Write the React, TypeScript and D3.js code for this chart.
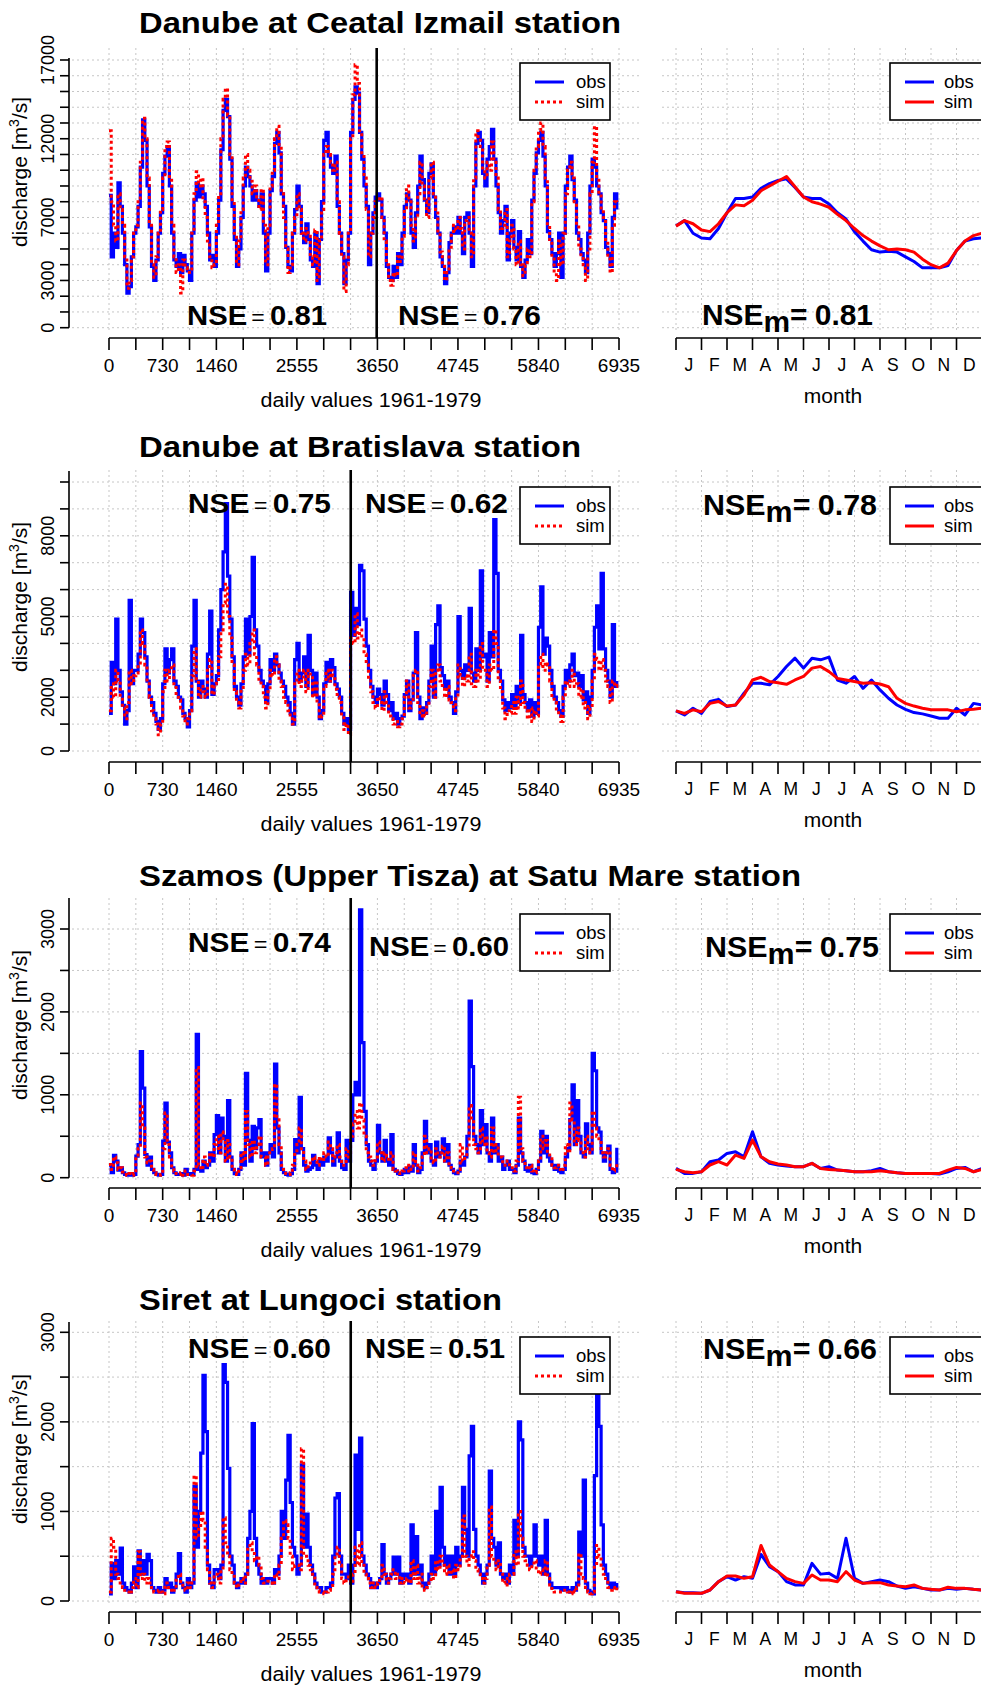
import React from "react";
import * as d3 from "d3";

const FONT = "'Liberation Sans', Arial, Helvetica, sans-serif";
const BLUE = "#0000ff";
const RED = "#ff0000";
const GRID = "#c6c6c6";

// ---- time axis ----
const SERIES_DAYS = 6935;
const DAYS_PER_MONTH = 365 / 12; // daily series summarised month by month
const CLIM_STEP = 365 / 36; // mean annual cycle, roughly every 10 days
const yearTicks = d3.range(0, SERIES_DAYS + 1, 365);
const dayLabels = [0, 730, 1460, 2555, 3650, 4745, 5840, 6935];
const monthNames = ["J", "F", "M", "A", "M", "J", "J", "A", "S", "O", "N", "D"];
const monthBounds = d3.range(0, 13).map((m) => (m * 365) / 12);

// ---- Danube at Ceatal Izmail (m3/s) ----
const izmailObs = [
  8400, 4500, 6000, 5100, 9200, 7700, 6000, 4000, 2200, 2600, 4500, 6000,
  6400, 7700, 10200, 13200, 11900, 9000, 6400, 3900, 3000, 4300, 6000, 7300,
  9800, 10900, 11500, 9000, 6000, 4300, 3900, 4700, 3500, 4600, 4000, 3600,
  3000, 6000, 8100, 9200, 8300, 9000, 8500, 7700, 6000, 4300, 4600, 3900,
  6000, 8100, 11300, 13800, 14500, 13400, 10700, 7700, 5600, 3900, 5000, 7000,
  9000, 10200, 9600, 9000, 8100, 8700, 8100, 7700, 8500, 6000, 3600, 6000,
  8700, 9600, 11700, 12400, 11100, 8500, 7700, 5100, 3900, 3600, 6000, 7500,
  9000, 7700, 6000, 5400, 6600, 5600, 4300, 3900, 6000, 2800, 5600, 8000,
  11900, 12400, 10900, 10200, 9800, 10900, 7700, 6000, 4700, 2800, 4300, 6000,
  12400, 14500, 15300, 14900, 12400, 10700, 9000, 7700, 4000, 6000, 7300, 8300,
  8500, 8100, 7000, 6000, 3900, 3200, 3000, 3900, 3200, 4700, 4000, 6000,
  7700, 8500, 8100, 6000, 5100, 7300, 9000, 10900, 9400, 8100, 7300, 9800,
  10400, 8300, 7000, 6000, 4500, 3900, 2800, 3500, 5400, 6000, 6400, 6000,
  7000, 6000, 4700, 7000, 7300, 6000, 3900, 9000, 11700, 12400, 11900, 9800,
  9000, 10700, 11500, 12600, 10700, 9000, 7300, 6000, 6800, 7700, 4300, 6000,
  6800, 5100, 4300, 6100, 3900, 3200, 4300, 5600, 4700, 8100, 9800, 11100,
  11900, 12400, 10900, 9000, 6100, 5600, 4700, 3900, 4700, 6000, 3200, 6000,
  9000, 10200, 10900, 9400, 8100, 6000, 5600, 4700, 4300, 3500, 6000, 9000,
  10700, 10200, 9000, 8500, 7300, 6800, 5100, 4700, 3900, 7000, 8500, 7500,
];
const izmailSim = [
  12500, 8000, 6500, 5500, 8500, 7500, 6500, 4500, 2500, 3000, 4500, 6000,
  6500, 8000, 10500, 13300, 12000, 9500, 6500, 4000, 3200, 4500, 6000, 7500,
  9500, 11500, 11800, 9500, 6500, 4500, 3500, 4000, 2200, 4300, 3800, 3500,
  3500, 6000, 8500, 9900, 9000, 9500, 8000, 7000, 5500, 4500, 3800, 4000,
  6500, 8500, 12000, 14500, 15200, 13500, 11000, 8000, 6000, 4000, 5500, 7500,
  9500, 11000, 10000, 9300, 8500, 9000, 8300, 7500, 8800, 6500, 4000, 6500,
  9000, 10000, 12000, 12800, 11500, 8500, 7000, 5000, 3500, 4000, 6000, 7000,
  8500, 7500, 6000, 5500, 6300, 5800, 4500, 4000, 6200, 3000, 5500, 7500,
  11000, 11500, 11000, 10500, 10000, 10500, 8000, 6000, 4500, 2300, 4000, 6000,
  12000, 14800, 16700, 15500, 12500, 11000, 9500, 7500, 4500, 6000, 7000, 8000,
  8000, 8300, 7000, 5500, 4000, 3000, 2700, 3500, 3300, 4500, 4200, 5800,
  7500, 9000, 8000, 6500, 5500, 7000, 8500, 10500, 9000, 8000, 7000, 9500,
  10500, 8500, 7500, 6000, 4800, 4000, 3000, 3500, 5000, 6000, 6500, 6200,
  7000, 6300, 5000, 6800, 7000, 6000, 4500, 9500, 12500, 12000, 11500, 10000,
  9500, 10500, 10000, 11800, 10500, 9500, 7500, 6300, 6500, 7500, 4500, 5500,
  6500, 5000, 4000, 5500, 4000, 3300, 4000, 5000, 4500, 8000, 10000, 11500,
  12500, 13000, 11500, 9500, 6500, 5500, 4500, 3500, 3000, 5500, 4000, 6000,
  8500, 10000, 10500, 9500, 8000, 6500, 5000, 4500, 4000, 3000, 5000, 8500,
  10500, 12800, 9500, 8500, 7500, 7000, 5500, 4500, 3500, 6500, 8000, 7800,
];
const izmailClimObs = [
  6470, 6800, 6000, 5700, 5650, 6300, 7300, 8200, 8200, 8300, 8850, 9150, 9350,
  9450, 8900, 8300, 8200, 8200, 7850, 7300, 6900, 6100, 5500, 4950, 4800, 4850,
  4800, 4500, 4200, 3800, 3800, 3800, 3950, 4900, 5500, 5650, 5700,
];
const izmailClimSim = [
  6450, 6800, 6600, 6200, 6100, 6600, 7300, 7800, 7750, 8100, 8700, 9000, 9300,
  9600, 8950, 8300, 8000, 7850, 7650, 7200, 6800, 6300, 5850, 5500, 5200, 4950,
  5000, 4950, 4800, 4350, 4000, 3800, 4100, 4900, 5500, 5850, 6000,
];

// ---- Danube at Bratislava (m3/s) ----
const bratObs = [
  1400, 3300, 2500, 4900, 3000, 2200, 1700, 1000, 1500, 5600, 2500, 3000,
  3000, 3600, 4900, 4400, 3500, 2600, 2000, 1800, 1400, 1100, 800, 1200,
  2500, 3800, 2900, 3400, 3800, 2600, 2400, 2000, 1900, 1400, 1200, 900,
  1500, 3900, 5600, 2600, 2000, 2600, 2300, 2000, 3600, 5200, 2100, 2500,
  2800, 4500, 6000, 7400, 9200, 6500, 4900, 3500, 2400, 2000, 1700, 2500,
  3500, 4900, 3600, 5000, 7200, 4500, 3900, 3000, 2600, 2400, 1800, 2500,
  3400, 3000, 3600, 3200, 2900, 2600, 2400, 2000, 1800, 1400, 1000, 3400,
  4000, 2600, 2900, 3500, 2400, 4300, 3000, 2100, 2900, 2000, 1200, 1500,
  2500, 3300, 2600, 3400, 3100, 2500, 2300, 2000, 1400, 1000, 1200, 800,
  5900, 4300, 5300, 4700, 6900, 6700, 4900, 3900, 3000, 2400, 2000, 1800,
  2300, 2100, 1700, 2600, 2100, 1500, 1800, 1200, 1400, 1000, 1200, 1300,
  2100, 2600, 1500, 1900, 2900, 4400, 2000, 1200, 1600, 1400, 1800, 2600,
  3900, 2000, 4700, 5400, 3100, 2800, 2400, 2600, 2000, 1800, 1400, 2200,
  5000, 3000, 2700, 3200, 3000, 5300, 2900, 2600, 3800, 3000, 6700, 3500,
  3600, 2600, 4400, 3500, 8600, 6600, 3000, 2600, 1900, 1500, 1800, 1600,
  2100, 1600, 2400, 1800, 4300, 2100, 1800, 1500, 1900, 1300, 1800, 1400,
  4600, 6100, 3600, 4200, 3900, 3000, 2400, 2000, 1800, 1500, 1300, 2400,
  3000, 2600, 3200, 3600, 2800, 2900, 2400, 2800, 1900, 2200, 1400, 2000,
  3000, 4600, 5400, 3800, 6600, 3800, 3000, 2600, 2000, 4700, 2400, 2600,
];
const bratSim = [
  1500, 2500, 2000, 3000, 2600, 2000, 1600, 1200, 1800, 3000, 2500, 2800,
  2900, 3200, 4500, 4000, 3200, 2500, 2000, 1500, 1200, 1000, 600, 1000,
  2200, 3000, 2600, 3000, 3200, 2500, 2000, 1900, 1600, 1300, 1000, 1200,
  1500, 2800, 3800, 2600, 2000, 2400, 2200, 2000, 3000, 3400, 2100, 2500,
  2600, 3500, 4500, 5500, 6200, 5000, 4200, 3200, 2200, 1800, 1600, 2300,
  3000, 3600, 3200, 4000, 4500, 3600, 3200, 2600, 2400, 2000, 1600, 2200,
  3000, 2800, 3500, 3200, 2600, 2400, 2000, 1800, 1500, 1200, 1000, 2500,
  3000, 2400, 2600, 3000, 2200, 3000, 2800, 2000, 2600, 1800, 1200, 1300,
  2400, 3000, 2600, 3000, 2800, 2300, 2000, 1800, 1300, 800, 1000, 600,
  4200, 4000, 5100, 4200, 4500, 4200, 3600, 3200, 2600, 2200, 1800, 1600,
  2000, 1800, 1500, 2200, 1800, 1300, 1200, 1000, 1100, 900, 1000, 1200,
  2000, 2600, 1600, 1800, 2800, 3000, 1800, 1300, 1500, 1300, 1700, 2400,
  3000, 2000, 3000, 3200, 2600, 2300, 2000, 2400, 1900, 1800, 1500, 2000,
  3200, 2800, 2400, 2800, 2600, 3600, 2500, 2400, 3000, 2600, 4000, 3000,
  3000, 2400, 3200, 3000, 4500, 4000, 2600, 2200, 1600, 1200, 1500, 1400,
  1800, 1400, 2000, 1600, 2600, 1800, 1500, 1200, 1600, 1100, 1500, 1300,
  3200, 3600, 3000, 3300, 3200, 2600, 2000, 1800, 1500, 1300, 1100, 2000,
  2600, 2400, 2600, 3000, 2400, 2500, 2000, 2300, 1600, 1800, 1200, 1600,
  2600, 3600, 3400, 3000, 3400, 3000, 2600, 2400, 1800, 2600, 2400, 2500,
];
const bratClimObs = [
  1490, 1340, 1590, 1400, 1840, 1920, 1650, 1710, 2150, 2520, 2520, 2460, 2770,
  3140, 3450, 3080, 3450, 3390, 3490, 2640, 2520, 2770, 2330, 2640, 2270, 1960,
  1710, 1550, 1430, 1380, 1300, 1220, 1220, 1590, 1340, 1770, 1710,
];
const bratClimSim = [
  1490, 1400, 1530, 1460, 1770, 1840, 1670, 1710, 2080, 2640, 2740, 2580, 2540,
  2480, 2640, 2770, 3080, 3140, 2950, 2700, 2640, 2580, 2520, 2540, 2490, 2390,
  1960, 1770, 1670, 1590, 1530, 1530, 1530, 1460, 1530, 1550, 1590,
];

// ---- Szamos (Upper Tisza) at Satu Mare (m3/s) ----
const szamosObs = [
  150, 60, 270, 200, 90, 120, 60, 40, 30, 50, 30, 40,
  260, 400, 1520, 1080, 280, 150, 250, 100, 60, 40, 30, 40,
  440, 900, 430, 300, 120, 60, 40, 40, 50, 30, 100, 40,
  50, 40, 100, 1730, 100, 80, 200, 120, 150, 300, 200, 520,
  750, 300, 720, 500, 200, 930, 250, 100, 50, 40, 100, 300,
  150, 1260, 450, 200, 620, 350, 600, 700, 250, 300, 150, 300,
  400, 250, 1370, 600, 300, 100, 60, 40, 30, 50, 100, 460,
  300, 970, 350, 150, 80, 100, 120, 270, 150, 100, 200, 150,
  250, 200, 480, 300, 150, 250, 540, 200, 120, 100, 450, 200,
  450, 1000, 1150, 1000, 3230, 1630, 800, 400, 200, 150, 100, 200,
  630, 300, 200, 450, 200, 150, 520, 100, 80, 50, 40, 60,
  100, 60, 130, 80, 400, 150, 60, 100, 300, 680, 300, 400,
  200, 150, 430, 250, 300, 470, 200, 400, 150, 100, 60, 50,
  80, 200, 150, 250, 500, 2130, 1340, 500, 400, 300, 810, 400,
  640, 300, 200, 720, 300, 400, 200, 250, 100, 150, 200, 100,
  100, 60, 150, 720, 300, 200, 100, 80, 150, 60, 50, 100,
  200, 560, 300, 500, 250, 200, 150, 100, 150, 80, 60, 100,
  250, 350, 700, 1120, 400, 930, 500, 300, 250, 650, 400, 300,
  1500, 1290, 600, 550, 300, 200, 300, 380, 100, 60, 80, 360,
];
const szamosSim = [
  160, 100, 250, 180, 100, 120, 70, 40, 30, 50, 30, 50,
  250, 350, 900, 600, 250, 180, 200, 100, 60, 40, 30, 40,
  350, 780, 400, 250, 120, 80, 50, 40, 60, 30, 80, 40,
  40, 30, 80, 1330, 150, 100, 250, 150, 200, 300, 250, 400,
  500, 300, 550, 450, 200, 450, 250, 100, 60, 40, 120, 300,
  200, 800, 400, 250, 450, 300, 400, 500, 250, 250, 150, 300,
  300, 350, 1130, 700, 400, 150, 80, 50, 40, 60, 150, 300,
  400, 600, 350, 200, 100, 150, 200, 250, 200, 150, 250, 200,
  300, 250, 430, 350, 200, 300, 400, 250, 150, 150, 350, 250,
  500, 650, 800, 600, 900, 700, 500, 300, 250, 200, 150, 250,
  430, 300, 200, 300, 250, 200, 300, 100, 80, 60, 50, 80,
  120, 80, 150, 100, 300, 150, 80, 120, 250, 500, 300, 350,
  200, 180, 350, 250, 300, 380, 200, 300, 150, 120, 80, 60,
  100, 400, 200, 250, 350, 870, 700, 400, 350, 300, 600, 400,
  500, 300, 250, 600, 300, 400, 250, 250, 150, 150, 200, 120,
  120, 80, 200, 970, 350, 200, 120, 100, 150, 80, 60, 100,
  200, 500, 350, 450, 300, 250, 150, 120, 150, 100, 80, 150,
  400, 300, 900, 700, 400, 600, 450, 300, 250, 500, 350, 300,
  800, 600, 500, 450, 300, 250, 300, 350, 150, 80, 100, 170,
];
const szamosClimObs = [
  112, 52, 52, 72, 193, 213, 293, 313, 253, 554, 253, 173, 153, 141, 133, 133,
  173, 112, 133, 92, 84, 72, 72, 84, 112, 72, 60, 52, 52, 52, 52, 44, 72, 112,
  124, 72, 112,
];
const szamosClimSim = [
  100, 72, 60, 72, 153, 193, 153, 273, 233, 454, 253, 193, 165, 153, 133, 133,
  173, 112, 100, 92, 84, 72, 72, 72, 84, 72, 60, 52, 52, 52, 52, 52, 92, 124,
  112, 72, 100,
];

// ---- Siret at Lungoci (m3/s) ----
const siretObs = [
  80, 420, 250, 450, 300, 590, 200, 150, 120, 100, 200, 380,
  150, 560, 300, 450, 300, 520, 450, 150, 120, 100, 150, 100,
  120, 250, 150, 200, 100, 150, 300, 530, 200, 150, 100, 250,
  150, 200, 1280, 600, 1000, 1650, 2520, 1890, 400, 200, 150, 350,
  350, 250, 400, 2640, 2440, 1480, 500, 400, 200, 150, 200, 250,
  200, 300, 700, 1000, 1980, 700, 400, 300, 200, 250, 200, 250,
  250, 200, 350, 300, 500, 1000, 700, 1350, 1850, 1100, 600, 500,
  300, 400, 1520, 600, 970, 600, 400, 300, 200, 150, 150, 100,
  100, 150, 150, 200, 500, 1150, 1200, 500, 300, 300, 250, 400,
  200, 400, 1630, 800, 1820, 500, 400, 300, 250, 150, 200, 150,
  200, 250, 630, 300, 200, 250, 300, 490, 300, 490, 200, 300,
  250, 300, 200, 850, 300, 720, 300, 400, 200, 150, 200, 300,
  500, 300, 1000, 400, 1270, 600, 400, 500, 300, 500, 300, 600,
  400, 500, 1270, 800, 500, 1620, 1950, 800, 500, 400, 300, 200,
  300, 400, 1450, 700, 600, 400, 650, 300, 250, 300, 200, 400,
  300, 900, 500, 2000, 1800, 600, 500, 500, 400, 500, 850, 500,
  400, 500, 300, 900, 300, 200, 150, 150, 150, 150, 120, 150,
  150, 120, 100, 150, 120, 200, 770, 500, 1350, 200, 120, 100,
  80, 1400, 2320, 1950, 850, 400, 300, 200, 150, 200, 150, 200,
];
const siretSim = [
  100, 700, 600, 300, 250, 200, 150, 120, 100, 80, 150, 250,
  150, 550, 250, 300, 200, 250, 200, 150, 100, 100, 120, 100,
  80, 200, 150, 150, 100, 120, 250, 300, 200, 150, 120, 200,
  150, 200, 1400, 700, 800, 1000, 900, 600, 350, 200, 150, 300,
  300, 200, 350, 930, 650, 500, 350, 300, 200, 150, 180, 250,
  200, 300, 600, 650, 550, 450, 500, 400, 250, 200, 200, 220,
  200, 180, 300, 250, 400, 700, 900, 850, 700, 500, 350, 400,
  400, 350, 1700, 500, 500, 400, 350, 300, 150, 120, 100, 100,
  80, 100, 120, 150, 300, 500, 600, 400, 250, 200, 250, 300,
  200, 300, 600, 400, 650, 400, 300, 250, 200, 150, 200, 150,
  200, 250, 400, 300, 200, 250, 300, 350, 250, 300, 200, 250,
  200, 250, 200, 450, 250, 400, 200, 300, 150, 120, 150, 200,
  300, 250, 450, 350, 500, 400, 300, 400, 300, 350, 250, 400,
  350, 500, 950, 500, 400, 500, 550, 450, 350, 300, 250, 200,
  250, 400, 1050, 500, 450, 350, 450, 300, 200, 250, 180, 300,
  300, 550, 400, 1000, 700, 500, 450, 400, 350, 400, 450, 350,
  300, 350, 300, 450, 250, 180, 120, 100, 100, 100, 100, 120,
  120, 100, 80, 120, 100, 150, 530, 300, 250, 150, 100, 80,
  100, 400, 620, 500, 400, 300, 250, 150, 120, 150, 120, 150,
];
const siretClimObs = [
  104, 93, 93, 86, 123, 216, 272, 234, 272, 253, 520, 383, 328, 216, 179, 179,
  420, 300, 309, 253, 700, 253, 197, 216, 234, 216, 167, 141, 160, 141, 123, 123,
  141, 130, 141, 130, 123,
];
const siretClimSim = [
  104, 86, 86, 86, 123, 216, 279, 279, 253, 270, 620, 402, 328, 253, 216, 197,
  290, 234, 234, 216, 328, 234, 197, 205, 205, 179, 167, 160, 179, 141, 130, 123,
  153, 141, 141, 130, 123,
];

type NseText = { value: string; x: number; w: number; y: number };

type PanelSpec = {
  key: string;
  title: string;
  titleW: number;
  titleY: number;
  top: number;
  bottom: number;
  zeroY: number;
  yMax: number;
  yMaxPx: number;
  axisTop: number;
  tickStep: number;
  yLabels: number[];
  yTitleY: number;
  split: number;
  nse: NseText[];
  nsem: NseText;
  legendTop: number;
  obs: number[];
  sim: number[];
  climObs: number[];
  climSim: number[];
};

const panels: PanelSpec[] = [
  {
    key: "izmail",
    title: "Danube at Ceatal Izmail station",
    titleW: 482,
    titleY: 33,
    top: 48,
    bottom: 338,
    zeroY: 327.7,
    yMax: 17000,
    yMaxPx: 60,
    axisTop: 58,
    tickStep: 1000,
    yLabels: [0, 3000, 7000, 12000, 17000],
    yTitleY: 172,
    split: 3640,
    nse: [
      { value: "0.81", x: 187, w: 140, y: 325 },
      { value: "0.76", x: 398, w: 143, y: 325 },
    ],
    nsem: { value: "0.81", x: 702, w: 171, y: 325 },
    legendTop: 63,
    obs: izmailObs,
    sim: izmailSim,
    climObs: izmailClimObs,
    climSim: izmailClimSim,
  },
  {
    key: "brat",
    title: "Danube at Bratislava station",
    titleW: 442,
    titleY: 457,
    top: 470,
    bottom: 762,
    zeroY: 751,
    yMax: 10000,
    yMaxPx: 482,
    axisTop: 471,
    tickStep: 1000,
    yLabels: [0, 2000, 5000, 8000],
    yTitleY: 597,
    split: 3287,
    nse: [
      { value: "0.75", x: 188, w: 143, y: 513 },
      { value: "0.62", x: 365, w: 143, y: 513 },
    ],
    nsem: { value: "0.78", x: 703, w: 174, y: 515 },
    legendTop: 487,
    obs: bratObs,
    sim: bratSim,
    climObs: bratClimObs,
    climSim: bratClimSim,
  },
  {
    key: "szamos",
    title: "Szamos (Upper Tisza) at Satu Mare station",
    titleW: 662,
    titleY: 886,
    top: 898,
    bottom: 1188,
    zeroY: 1177.7,
    yMax: 3000,
    yMaxPx: 929,
    axisTop: 898,
    tickStep: 500,
    yLabels: [0, 1000, 2000, 3000],
    yTitleY: 1025,
    split: 3287,
    nse: [
      { value: "0.74", x: 188, w: 143, y: 952 },
      { value: "0.60", x: 369, w: 140, y: 956 },
    ],
    nsem: { value: "0.75", x: 705, w: 174, y: 957 },
    legendTop: 914,
    obs: szamosObs,
    sim: szamosSim,
    climObs: szamosClimObs,
    climSim: szamosClimSim,
  },
  {
    key: "siret",
    title: "Siret at Lungoci station",
    titleW: 363,
    titleY: 1310,
    top: 1321,
    bottom: 1612,
    zeroY: 1601,
    yMax: 3000,
    yMaxPx: 1332.3,
    axisTop: 1322,
    tickStep: 500,
    yLabels: [0, 1000, 2000, 3000],
    yTitleY: 1449,
    split: 3287,
    nse: [
      { value: "0.60", x: 188, w: 143, y: 1358 },
      { value: "0.51", x: 365, w: 140, y: 1358 },
    ],
    nsem: { value: "0.66", x: 703, w: 174, y: 1359 },
    legendTop: 1337,
    obs: siretObs,
    sim: siretSim,
    climObs: siretClimObs,
    climSim: siretClimSim,
  },
];

const LEFT_X0 = 109;
const LEFT_X1 = 619;
const RIGHT_X0 = 676;
const RIGHT_X1 = 982;
const W = 981;
const H = 1689;

function Legend({ x, y, w, right }: { x: number; y: number; w: number; right: boolean }) {
  const lx0 = x + 15;
  const lx1 = x + 44;
  const tx = right ? x + 54 : x + 56;
  return (
    <g>
      <rect x={x} y={y} width={w} height={57} fill="#fff" stroke="#000" strokeWidth={1.6} />
      <line x1={lx0} x2={lx1} y1={y + 19} y2={y + 19} stroke={BLUE} strokeWidth={3} />
      <line
        x1={lx0}
        x2={lx1}
        y1={y + 39}
        y2={y + 39}
        stroke={RED}
        strokeWidth={3}
        strokeDasharray={right ? undefined : "3,3"}
      />
      <text x={tx} y={y + 25} fontSize={18.5} fontFamily={FONT}>
        obs
      </text>
      <text x={tx} y={y + 45} fontSize={18.5} fontFamily={FONT}>
        sim
      </text>
    </g>
  );
}

function Panel({ p }: { p: PanelSpec }) {
  const x = d3.scaleLinear().domain([0, SERIES_DAYS]).range([LEFT_X0, LEFT_X1]);
  const xm = d3.scaleLinear().domain([0, 365]).range([RIGHT_X0, RIGHT_X1]);
  const y = d3.scaleLinear().domain([0, p.yMax]).range([p.zeroY, p.yMaxPx]);
  const gridVals = d3.range(0, p.yMax + 1, p.tickStep);

  // daily discharge is drawn as a staircase, as R's type = "s"
  const series = d3
    .line<number>()
    .x((_, i) => x(i * DAYS_PER_MONTH))
    .y((d) => y(d))
    .curve(d3.curveStepAfter);
  const clim = d3
    .line<number>()
    .x((_, i) => xm(i * CLIM_STEP))
    .y((d) => y(d));

  const clipId = `clip-${p.key}`;

  return (
    <g>
      <defs>
        <clipPath id={clipId}>
          <rect x={662} y={p.top} width={W - 662} height={p.bottom - p.top} />
        </clipPath>
      </defs>

      {/* grid */}
      <g stroke={GRID} strokeWidth={1} strokeDasharray="2,3">
        {gridVals.map((v) => (
          <line key={`hl${v}`} x1={72} x2={640} y1={y(v)} y2={y(v)} />
        ))}
        {yearTicks.map((d) => (
          <line key={`vl${d}`} x1={x(d)} x2={x(d)} y1={p.top} y2={p.zeroY + 3} />
        ))}
        {gridVals.map((v) => (
          <line key={`hr${v}`} x1={662} x2={W} y1={y(v)} y2={y(v)} />
        ))}
        {monthBounds.map((d, i) => (
          <line key={`vr${i}`} x1={xm(d)} x2={xm(d)} y1={p.top} y2={p.zeroY + 3} />
        ))}
      </g>

      {/* daily series */}
      <path d={series(p.obs) ?? ""} fill="none" stroke={BLUE} strokeWidth={3.2} strokeLinejoin="miter" />
      <path
        d={series(p.sim) ?? ""}
        fill="none"
        stroke={RED}
        strokeWidth={3}
        strokeDasharray="3,3"
      />

      {/* mean annual cycle */}
      <g clipPath={`url(#${clipId})`}>
        <path d={clim(p.climObs) ?? ""} fill="none" stroke={BLUE} strokeWidth={3} strokeLinejoin="round" />
        <path d={clim(p.climSim) ?? ""} fill="none" stroke={RED} strokeWidth={3} strokeLinejoin="round" />
      </g>

      {/* calibration / validation split */}
      <line x1={x(p.split)} x2={x(p.split)} y1={p.top} y2={p.bottom} stroke="#000" strokeWidth={2.6} />

      {/* y axis */}
      <line x1={69} x2={69} y1={p.axisTop} y2={p.zeroY} stroke="#000" strokeWidth={1.6} />
      {gridVals.map((v) => (
        <line key={`yt${v}`} x1={60} x2={69} y1={y(v)} y2={y(v)} stroke="#000" strokeWidth={1.6} />
      ))}
      {p.yLabels.map((v) => (
        <text
          key={`yl${v}`}
          transform={`translate(54,${y(v)}) rotate(-90)`}
          fontSize={18}
          textAnchor="middle"
          fontFamily={FONT}
        >
          {v}
        </text>
      ))}
      <text transform={`translate(27,${p.yTitleY}) rotate(-90)`} fontSize={21} textAnchor="middle" fontFamily={FONT}>
        discharge [m
        <tspan fontSize={14} dy={-8}>
          3
        </tspan>
        <tspan dy={8}>/s]</tspan>
      </text>

      {/* day axis */}
      <line x1={LEFT_X0} x2={LEFT_X1} y1={p.bottom} y2={p.bottom} stroke="#000" strokeWidth={1.6} />
      {yearTicks.map((d) => (
        <line key={`xt${d}`} x1={x(d)} x2={x(d)} y1={p.bottom} y2={p.bottom + 12} stroke="#000" strokeWidth={1.6} />
      ))}
      {dayLabels.map((d) => (
        <text key={`xl${d}`} x={x(d)} y={p.bottom + 34} fontSize={19} textAnchor="middle" fontFamily={FONT}>
          {d}
        </text>
      ))}
      <text
        x={371}
        y={p.bottom + 69}
        fontSize={20.5}
        textAnchor="middle"
        fontFamily={FONT}
        textLength={221}
        lengthAdjust="spacingAndGlyphs"
      >
        daily values 1961-1979
      </text>

      {/* month axis */}
      <line x1={RIGHT_X0} x2={RIGHT_X1} y1={p.bottom} y2={p.bottom} stroke="#000" strokeWidth={1.6} />
      {monthBounds.map((d, i) => (
        <line key={`mt${i}`} x1={xm(d)} x2={xm(d)} y1={p.bottom} y2={p.bottom + 12} stroke="#000" strokeWidth={1.6} />
      ))}
      {monthNames.map((m, i) => (
        <text
          key={`ml${i}`}
          x={xm((monthBounds[i] + monthBounds[i + 1]) / 2)}
          y={p.bottom + 33}
          fontSize={17.5}
          textAnchor="middle"
          fontFamily={FONT}
        >
          {m}
        </text>
      ))}
      <text x={833} y={p.bottom + 65} fontSize={21} textAnchor="middle" fontFamily={FONT}>
        month
      </text>

      {/* title */}
      <text
        x={139}
        y={p.titleY}
        fontSize={30}
        fontWeight="bold"
        fontFamily={FONT}
        textLength={p.titleW}
        lengthAdjust="spacingAndGlyphs"
      >
        {p.title}
      </text>

      {/* efficiency scores */}
      {p.nse.map((n, i) => (
        <text
          key={`nse${i}`}
          x={n.x}
          y={n.y}
          fontSize={28}
          fontFamily={FONT}
          textLength={n.w}
          lengthAdjust="spacingAndGlyphs"
        >
          <tspan fontWeight="bold">NSE</tspan>
          <tspan fontSize={22} dx={4}>
            =
          </tspan>
          <tspan fontWeight="bold" dx={5}>
            {n.value}
          </tspan>
        </text>
      ))}
      <text
        x={p.nsem.x}
        y={p.nsem.y}
        fontSize={29}
        fontWeight="bold"
        fontFamily={FONT}
        textLength={p.nsem.w}
        lengthAdjust="spacingAndGlyphs"
      >
        NSE
        <tspan dy={7}>m</tspan>
        <tspan dy={-7}>=</tspan>
        <tspan dx={7}>{p.nsem.value}</tspan>
      </text>

      {/* legends */}
      <Legend x={520} y={p.legendTop} w={90} right={false} />
      <Legend x={890} y={p.legendTop} w={100} right={true} />
    </g>
  );
}

export default function App() {
  return (
    <svg
      width={W}
      height={H}
      viewBox={`0 0 ${W} ${H}`}
      style={{ position: "absolute", left: 0, top: 0, background: "#fff" }}
    >
      <rect x={0} y={0} width={W} height={H} fill="#fff" />
      {panels.map((p) => (
        <Panel key={p.key} p={p} />
      ))}
    </svg>
  );
}
